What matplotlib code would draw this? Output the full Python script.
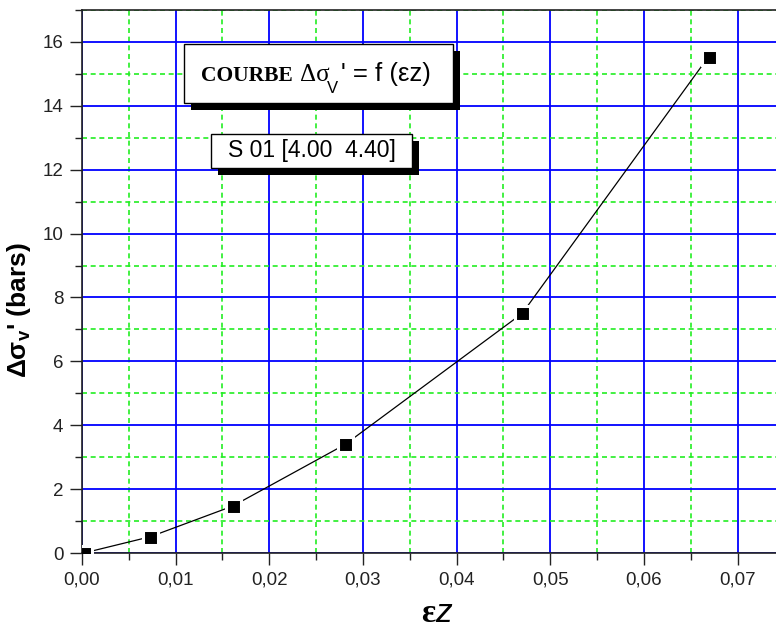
import matplotlib
matplotlib.use('Agg')
import matplotlib.pyplot as plt
from matplotlib.patches import Rectangle
from matplotlib.ticker import MultipleLocator

plt.rcParams['mathtext.fontset'] = 'custom'
plt.rcParams['mathtext.rm'] = 'Liberation Sans'
plt.rcParams['mathtext.bf'] = 'Liberation Sans:bold'
plt.rcParams['mathtext.it'] = 'Liberation Sans:italic'

# data
eps_z = [0.0002, 0.0073, 0.0161, 0.0281, 0.0470, 0.0669]
dsig = [0.0, 0.51, 1.47, 3.40, 7.50, 15.54]

x_ticks = [0.00, 0.01, 0.02, 0.03, 0.04, 0.05, 0.06, 0.07]
x_tick_labels = ['0,00', '0,01', '0,02', '0,03', '0,04', '0,05', '0,06', '0,07']
y_ticks = [0, 2, 4, 6, 8, 10, 12, 14, 16]
y_tick_labels = ['0', '2', '4', '6', '8', '10', '12', '14', '16']

W, H = 776, 628
fig = plt.figure(figsize=(W / 100, H / 100), dpi=100)
ax = fig.add_axes([82 / W, 75 / H, (W - 82) / W, 543 / H])

ax.plot(eps_z, dsig, color='black', lw=0.9, zorder=3)
ax.plot(eps_z, dsig, ls='none', marker='s', ms=10.8, mfc='black',
        mec='white', mew=2.2, zorder=4)

ax.set_xlim(0, 0.0741)
ax.set_ylim(0, 17)
ax.set_xticks(x_ticks)
ax.set_xticklabels(x_tick_labels)
ax.set_yticks(y_ticks)
ax.set_yticklabels(y_tick_labels)
ax.xaxis.set_minor_locator(MultipleLocator(0.005))
ax.yaxis.set_minor_locator(MultipleLocator(1))

ax.set_axisbelow(True)
ax.grid(which='major', color='#0000ff', lw=1.3, ls='-')
ax.grid(which='minor', color='#22ee22', lw=1.2, ls=(0, (3.0, 2.2)))

for lab in ax.get_xticklabels() + ax.get_yticklabels():
    lab.set_fontfamily('Liberation Sans')
    lab.set_fontsize(13.5)
    lab.set_color('#222222')
ax.tick_params(which='major', direction='out', length=8.5, width=1.0, color='#222222', pad=5)
ax.tick_params(which='minor', direction='out', length=5, width=1.0, color='#222222')

for s in ['left', 'bottom', 'top']:
    ax.spines[s].set_color('#222222')
    ax.spines[s].set_linewidth(1.2)
ax.spines['right'].set_visible(False)

ax.set_ylabel(r"Δσ$_{\mathbf{v}}$' (bars)", fontweight='bold', fontsize=19,
              fontfamily='Liberation Sans')
ax.yaxis.set_label_coords(-0.07, 0.447)
ax.set_xlabel(r'ε$\mathit{z}$', fontsize=24, fontfamily='Liberation Serif', fontweight='bold')
ax.xaxis.set_label_coords(0.512, -0.082)


def fx(px):
    return px / W


def fy(py):
    return 1 - py / H


def shadow_box(x0, y0, x1, y1, off=7):
    fig.add_artist(Rectangle((fx(x0 + off), fy(y1 + off)), (x1 - x0) / W, (y1 - y0) / H,
                             transform=fig.transFigure, facecolor='black', edgecolor='none', zorder=5))
    fig.add_artist(Rectangle((fx(x0), fy(y1)), (x1 - x0) / W, (y1 - y0) / H,
                             transform=fig.transFigure, facecolor='white', edgecolor='black',
                             lw=1.0, zorder=6))


shadow_box(184, 44, 453, 103)
shadow_box(211, 134, 412, 168)

base1 = fy(81)
fig.text(fx(201), base1, 'COURBE', fontfamily='Liberation Serif', fontweight='bold',
         fontsize=15.5, va='baseline', zorder=7)
fig.text(fx(300), base1, 'Δσ', fontfamily='Liberation Serif', fontsize=18,
         va='baseline', zorder=7)
fig.text(fx(327), fy(93), 'V', fontfamily='Liberation Sans', fontsize=12,
         va='baseline', zorder=7)
fig.text(fx(341), base1, "' = f (εz)", fontfamily='Liberation Sans', fontsize=18.5,
         va='baseline', zorder=7)

fig.text(fx(311.5), fy(151), 'S 01 [4.00  4.40]', fontfamily='Liberation Sans',
         fontsize=16.5, ha='center', va='center', zorder=7)

fig.savefig('out.png', dpi=100)
